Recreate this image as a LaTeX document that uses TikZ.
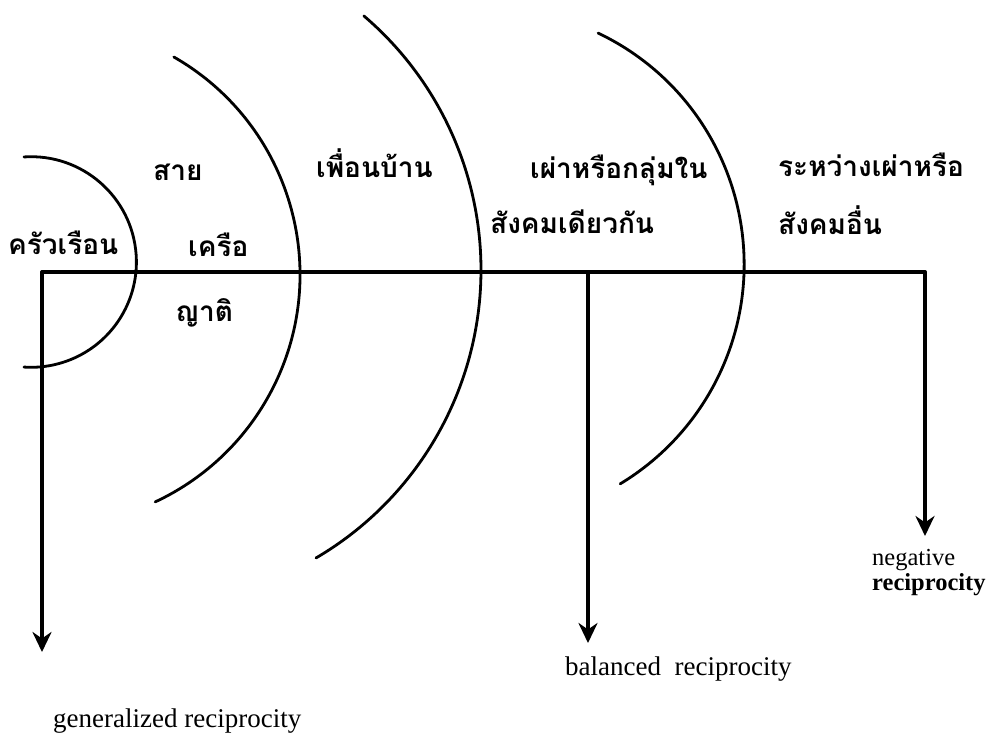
\documentclass[tikz,border=0pt]{standalone}
\usepackage{fontspec}
\setmainfont{Liberation Serif}
\newfontfamily\thaifont[Script=Thai]{Loma}
\usetikzlibrary{arrows.meta}
\tikzset{
  ink/.style={line width=3.4pt, line cap=round, line join=round},
  arc/.style={ink, line width=2.8pt},
  arr/.style={ink, line width=3.6pt, -{Stealth[length=20pt,width=19pt]}},
  thai/.style={font=\thaifont\bfseries\fontsize{28}{32}\selectfont, anchor=west, inner sep=0pt},
  eng/.style={font=\fontsize{27}{30}\selectfont, anchor=base west, inner sep=0pt},
  engs/.style={font=\fontsize{24.5}{28}\selectfont, anchor=base west, inner sep=0pt}
}
\begin{document}
\begin{tikzpicture}[x=1pt,y=-1pt]
\useasboundingbox (0,0) rectangle (993,732);
% arcs (circle centres, radii and angles fitted to the drawing)
\draw[arc] (31.1,262) ++(-93.9:105.3) arc[start angle=-93.9, end angle=93.9, radius=105.3];
\draw[arc] (49.2,274.6) ++(-60.2:250.8) arc[start angle=-60.2, end angle=65.0, radius=250.8];
\draw[arc] (147,269.9) ++(-49.5:334) arc[start angle=-49.5, end angle=59.6, radius=334];
\draw[arc] (487.8,264.4) ++(-64.5:256.3) arc[start angle=-64.5, end angle=58.9, radius=256.3];
% axis
\coordinate (h0) at (42,272);
\coordinate (h1) at (925,272);
\coordinate (hb) at (588,272);
\coordinate (tipG) at (42,652);
\coordinate (tipB) at (588,643);
\coordinate (tipN) at (925,536);
\draw[ink] (h0) -- (h1);
\draw[arr] (h0) -- (tipG);
\draw[arr] (hb) -- (tipB);
\draw[arr] (h1) -- (tipN);
% Thai labels
\node[thai] (t1) at (8,243) {ครัวเรือน};
\node[thai] (t2) at (153,172) {สาย};
\node[thai] (t3) at (188,245) {เครือ};
\node[thai] (t4) at (175,313) {ญาติ};
\node[thai] (t5) at (316,163) {เพื่อนบ้าน};
\node[thai] (t6) at (530,170) {เผ่าหรือกลุ่มใน};
\node[thai] (t7) at (490,222) {สังคมเดียวกัน};
\node[thai] (t8) at (778,165) {ระหว่างเผ่าหรือ};
\node[thai] (t9) at (778,220) {สังคมอื่น};
% English labels
\node[eng] (gen) at (53,727) {generalized reciprocity};
\node[eng] (bal) at (565,675) {balanced\ \ reciprocity};
\node[engs] (neg) at (872,565) {negative};
\node[engs] (rec) at (872,590) {\bfseries reciprocity};
\end{tikzpicture}
\end{document}
